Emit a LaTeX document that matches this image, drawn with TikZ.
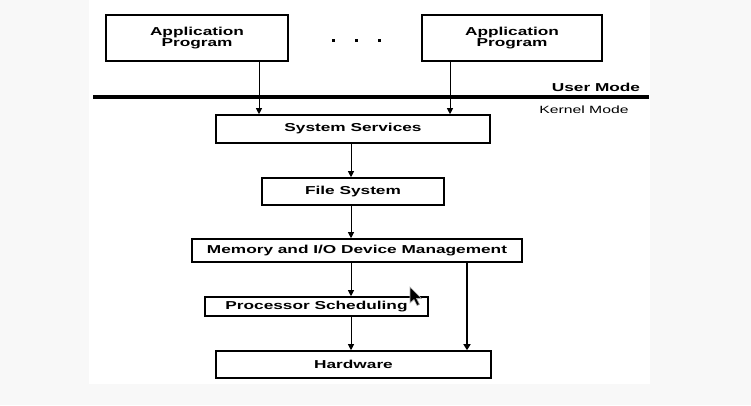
\documentclass[tikz,border=0pt]{standalone}
\usepackage{fontspec}
\setmainfont{Liberation Sans}
\newfontfamily\boxfont[FakeStretch=1.5]{Liberation Sans Bold}
\newfontfamily\modefont[FakeStretch=1.5]{Liberation Sans}
\usetikzlibrary{arrows.meta}
\definecolor{pagebg}{HTML}{F8F8F8}
\begin{document}
\begin{tikzpicture}[x=1pt,y=-1pt,
  blk/.style={draw=black,line width=1.6pt,inner sep=0pt,align=center,
    font=\boxfont\fontsize{11.5}{11.5}\selectfont},
  arr/.style={line width=0.9pt,-{Triangle[width=6pt,length=6pt]}},
  arrthick/.style={line width=1.8pt,-{Triangle[width=7pt,length=6pt]}},
  modelbl/.style={inner sep=0pt,anchor=center}]
\useasboundingbox (0,0) rectangle (751,405);
\fill[pagebg] (0,0) rectangle (751,405);
\fill[white] (89,0) rectangle (650,384);
% boxes
\node[blk,minimum width=182pt,minimum height=46pt] (app1) at (197,38) {Application\\Program};
\node[blk,minimum width=180pt,minimum height=46pt] (app2) at (512,38) {Application\\Program};
\node[blk,minimum width=274pt,minimum height=28pt] (sys) at (353,129) {System Services};
\node[blk,minimum width=182pt,minimum height=27pt] (fs) at (353,191.5) {File System};
\node[blk,minimum width=330pt,minimum height=23pt] (mem) at (357,250.5) {Memory and I/O Device Management};
\node[blk,minimum width=223pt,minimum height=19pt] (ps) at (316.5,306.5) {Processor Scheduling};
\node[blk,minimum width=275pt,minimum height=27pt] (hw) at (353.5,364.5) {Hardware};
% dots
\node[inner sep=0pt] (dots) at (356,40) {};
\foreach \dx in {333,356,379} \fill (\dx-1.5,39) rectangle (\dx+1.5,41.5);
% mode line and labels
\coordinate (lineL) at (93,97);
\coordinate (lineR) at (649,97);
\draw[line width=3.5pt] (lineL) -- (lineR);
\node[modelbl,font=\boxfont\fontsize{11.5}{11.5}\selectfont] (user) at (596,87) {User Mode};
\node[modelbl,font=\modefont\fontsize{10.5}{10.5}\selectfont] (kern) at (584,110) {Kernel Mode};
% connector x positions
\coordinate (xa) at (259,0);
\coordinate (xb) at (450,0);
\coordinate (xc) at (351,0);
\coordinate (xd) at (467,0);
\draw[arr] (app1.south -| xa) -- (sys.north -| xa);
\draw[arr] (app2.south -| xb) -- (sys.north -| xb);
\draw[arr] (sys.south -| xc) -- (fs.north -| xc);
\draw[arr] (fs.south -| xc) -- (mem.north -| xc);
\draw[arr] (mem.south -| xc) -- (ps.north -| xc);
\draw[arr] (ps.south -| xc) -- (hw.north -| xc);
\draw[arrthick] (mem.south -| xd) -- (hw.north -| xd);
% mouse cursor
\coordinate (cur) at (410,287);
\filldraw[fill=black,draw=gray!60,line width=0.6pt,shift={(cur)}]
  (0,0) -- (0,16) -- (4,12.5) -- (7,18.5) -- (9.5,17.5) -- (6.5,11.5) -- (11.5,11.5) -- cycle;
\end{tikzpicture}
\end{document}
